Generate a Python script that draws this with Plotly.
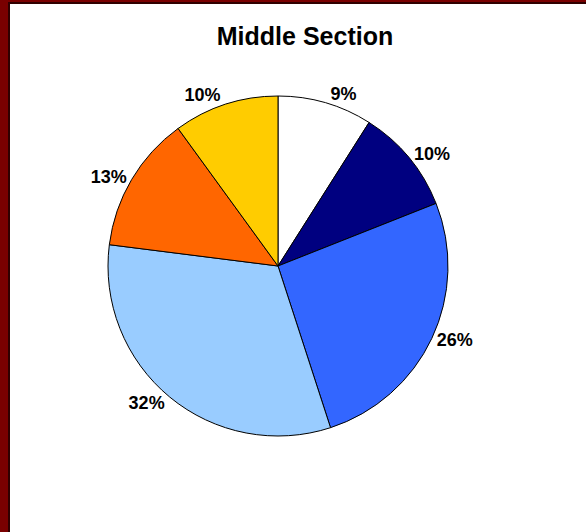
import plotly.graph_objects as go

labels = ["A", "B", "C", "D", "E", "F"]
values = [9, 10, 26, 32, 13, 10]
colors = ["#FFFFFF", "#000080", "#3366FF", "#99CCFF", "#FF6600", "#FFCC00"]
title_text = "Middle Section"

W, H = 586, 532
CX, CY, R = 278, 266, 170

fig = go.Figure()
fig.add_trace(go.Pie(
    labels=labels,
    values=values,
    sort=False,
    direction="clockwise",
    rotation=0,
    marker=dict(colors=colors, line=dict(color="#000000", width=1)),
    textinfo="percent",
    texttemplate="<b>%{percent:.0%}</b>",
    textposition="outside",
    textfont=dict(family="Liberation Sans, Arial, sans-serif", size=18, color="#000000"),
    showlegend=False,
    hoverinfo="label+percent",
    domain=dict(x=[(CX - R) / W, (CX + R) / W], y=[1 - (CY + R) / H, 1 - (CY - R) / H]),
))

shapes = [
    dict(type="rect", xref="paper", yref="paper", x0=0, x1=1, y0=0, y1=1,
         fillcolor="#7A0000", line=dict(width=0), layer="below"),
    dict(type="rect", xref="paper", yref="paper", x0=8 / W, x1=1, y0=0, y1=1 - 2 / H,
         fillcolor="#300000", line=dict(width=0), layer="below"),
    dict(type="rect", xref="paper", yref="paper", x0=10 / W, x1=1, y0=0, y1=1 - 4 / H,
         fillcolor="#FFFFFF", line=dict(width=0), layer="below"),
]

fig.update_layout(
    width=W, height=H,
    margin=dict(l=0, r=0, t=0, b=0),
    paper_bgcolor="#FFFFFF",
    plot_bgcolor="#FFFFFF",
    shapes=shapes,
    title=dict(text="<b>" + title_text + "</b>", x=305 / W, xanchor="center",
               y=1 - 36 / H, yanchor="middle", yref="container",
               font=dict(family="Liberation Sans, Arial, sans-serif", size=25, color="#000000")),
)

fig.write_html("out.html", config={"displayModeBar": False},
               post_script="document.body.style.margin='0';")
